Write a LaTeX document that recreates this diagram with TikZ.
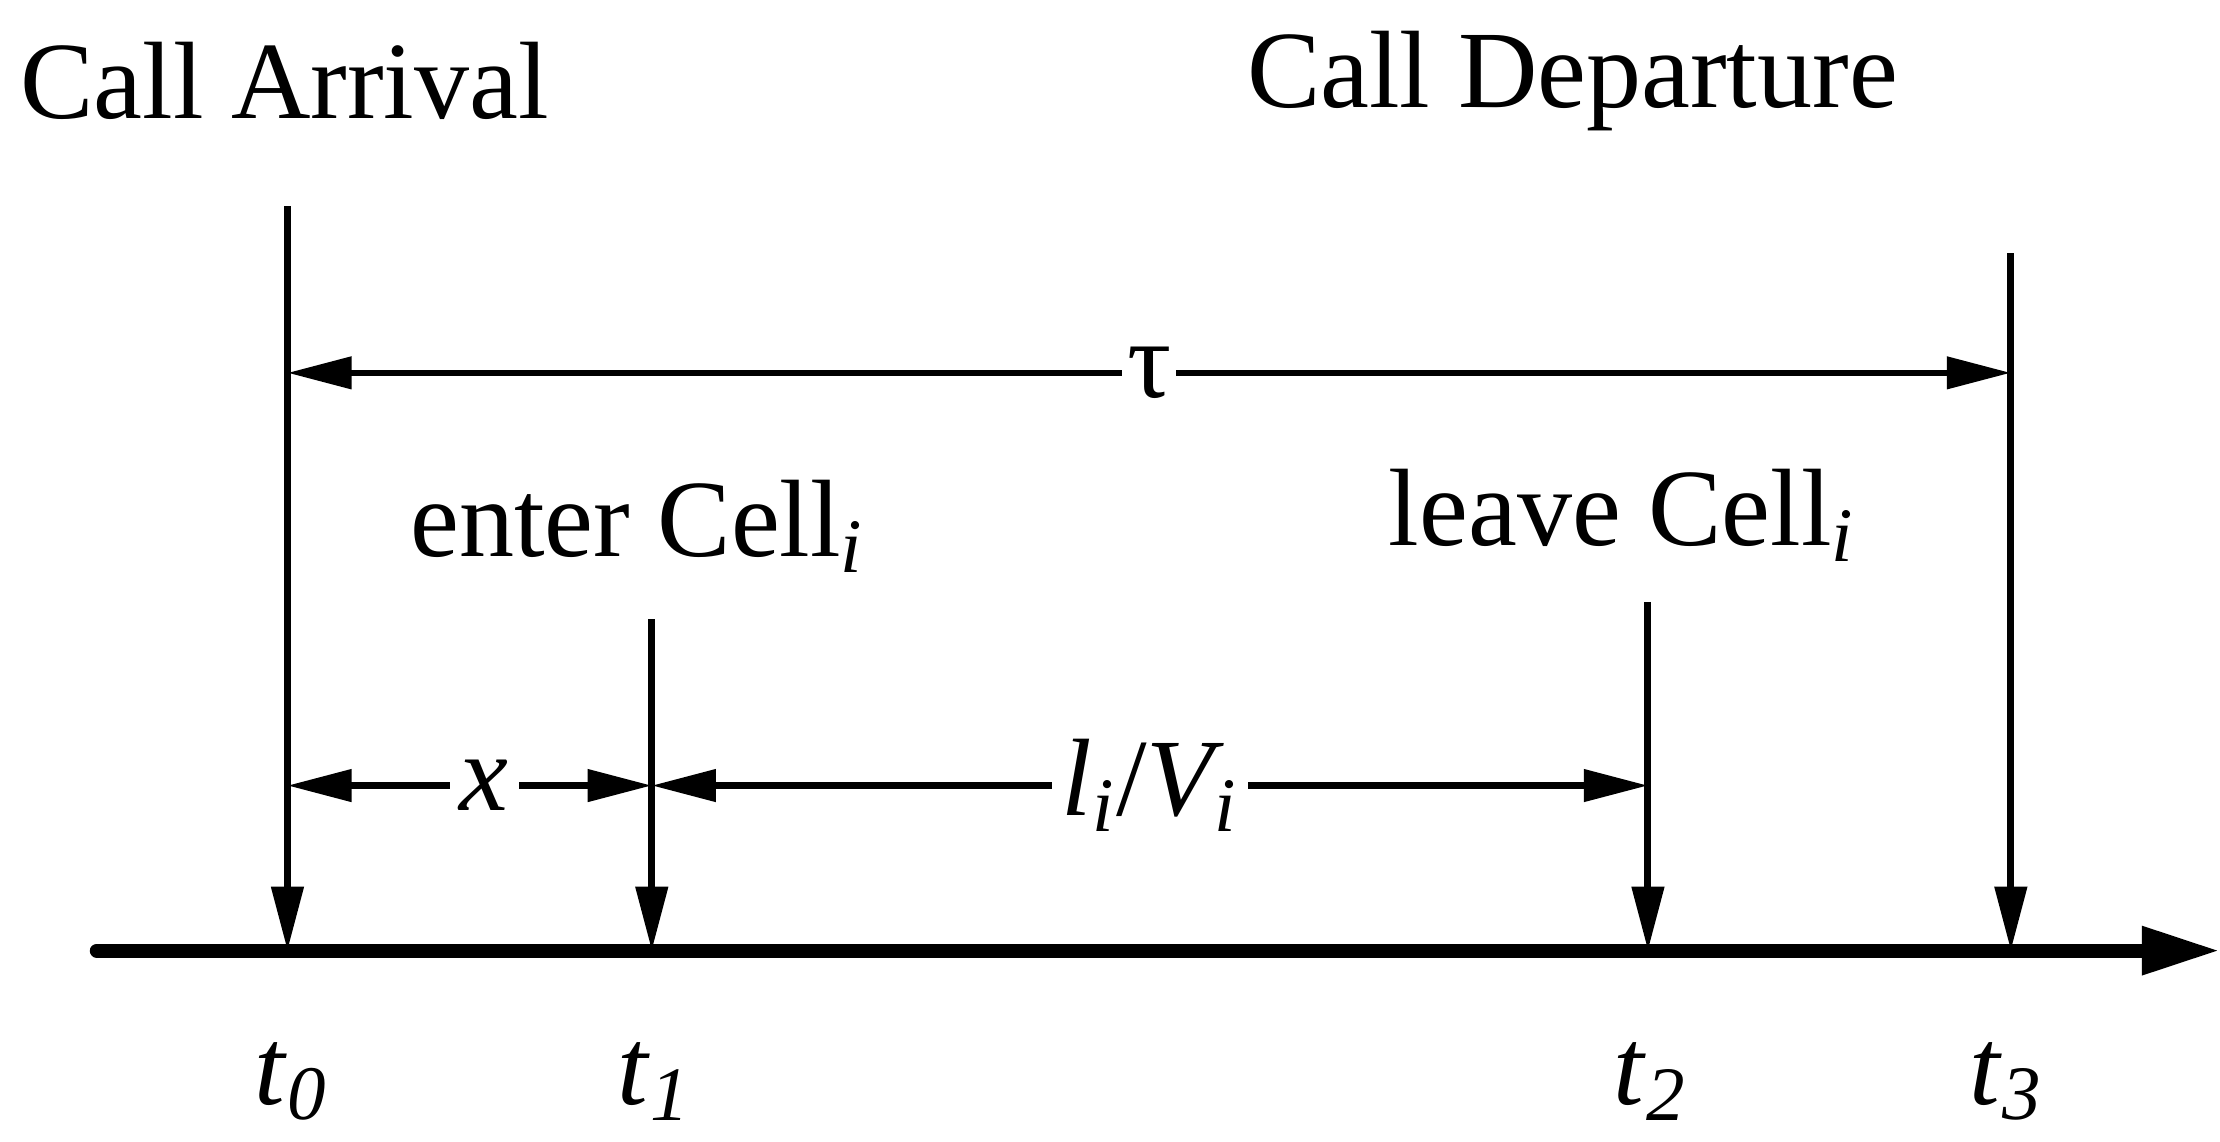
\documentclass[tikz,border=0pt]{standalone}
\usepackage{fontspec}
\setmainfont{Liberation Serif}
\usetikzlibrary{arrows.meta,positioning}
\tikzset{
  lbl/.style = {font=\fontsize{22}{26}\selectfont},
  tick/.style = {line width=1.4pt, -{Triangle[length=4.5mm,width=2.2mm]}},
  dim/.style = {line width=1.3pt, {Triangle[length=4.5mm,width=2.2mm]}-{Triangle[length=4.5mm,width=2.2mm]}},
  axis/.style = {line width=2.8pt, line cap=round, -{Triangle[length=5.5mm,width=3.2mm]}}
}
\begin{document}
\begin{tikzpicture}
\useasboundingbox (0,0) rectangle (15.6,8.02);

% axis
\coordinate (a0) at (0.68,1.34);
\coordinate (a1) at (15.6,1.34);
\draw [axis] (a0) -- (a1);
% time points
\coordinate (p0) at (2.02,1.34);
\coordinate (p1) at (4.58,1.34);
\coordinate (p2) at (11.58,1.34);
\coordinate (p3) at (14.13,1.34);
\coordinate (q0) at (2.02,6.57);
\coordinate (q1) at (4.58,3.67);
\coordinate (q2) at (11.58,3.79);
\coordinate (q3) at (14.13,6.24);
\draw [tick] (q0) -- (p0);
\draw [tick] (q1) -- (p1);
\draw [tick] (q2) -- (p2);
\draw [tick] (q3) -- (p3);
% labels
\node [lbl] (t0) at (2.05,0.42) {\textit{t}\textsubscript{\textit{0}}};
\node [lbl] (t1) at (4.6,0.42) {\textit{t}\textsubscript{\textit{1}}};
\node [lbl] (t2) at (11.6,0.42) {\textit{t}\textsubscript{\textit{2}}};
\node [lbl] (t3) at (14.1,0.42) {\textit{t}\textsubscript{\textit{3}}};
\node [lbl] (arr) at (2.0,7.45) {Call Arrival};
\node [lbl] (dep) at (11.05,7.45) {Call Departure};
\node [lbl] (ent) at (4.48,4.32) {enter Cell\textsubscript{\textit{i}}};
\node [lbl] (lea) at (11.4,4.4) {leave Cell\textsubscript{\textit{i}}};
% spans
\coordinate (d0) at (2.02,5.4);
\coordinate (d3) at (14.13,5.4);
\coordinate (e0) at (2.02,2.5);
\coordinate (e1) at (4.58,2.5);
\coordinate (e2) at (11.58,2.5);
\draw [dim] (d0) -- (d3) node [lbl, pos=0.5, fill=white, inner sep=1pt] (tau) {τ};
\draw [dim] (e0) -- (e1) node [lbl, pos=0.54, fill=white, inner sep=2pt] (x) {\textit{x}};
\draw [dim] (e1) -- (e2) node [lbl, pos=0.5, fill=white, inner sep=2pt] (lv) {\textit{l\textsubscript{i}}/\textit{V\textsubscript{i}}};
\end{tikzpicture}
\end{document}
